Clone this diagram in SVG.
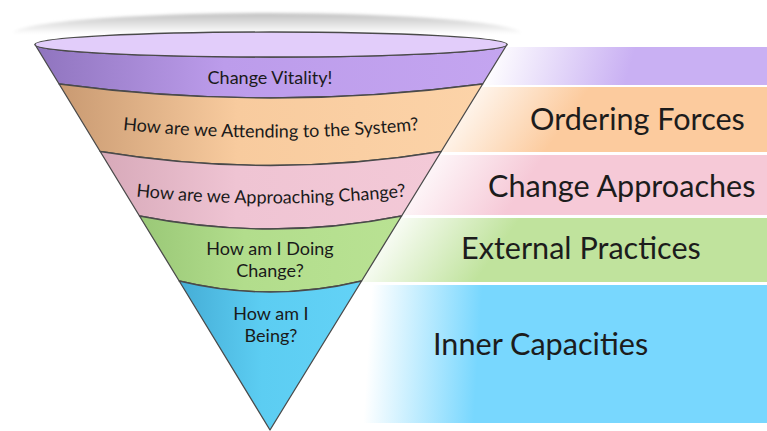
<svg xmlns="http://www.w3.org/2000/svg" width="767" height="431" viewBox="0 0 767 431">
  <defs>
    <style>
      .edge { stroke: #4a4a4a; stroke-width: 1.3; stroke-linejoin: round; }
      .q { font-family: Lato, "Open Sans", sans-serif; font-size: 18px; fill: #1a1a1a; text-anchor: middle; }
      .lbl { font-family: Lato, "Open Sans", sans-serif; font-size: 30.6px; fill: #1c1c1c; }
    </style>

    <!-- soft grey rim above the funnel mouth -->
    <linearGradient id="rimGrad" x1="0" y1="12" x2="0" y2="34" gradientUnits="userSpaceOnUse">
      <stop offset="0" stop-color="#bdbdbd"/>
      <stop offset="0.55" stop-color="#e2e2e2"/>
      <stop offset="1" stop-color="#ffffff"/>
    </linearGradient>
    <filter id="soft" x="-5%" y="-50%" width="110%" height="200%">
      <feGaussianBlur stdDeviation="1.4"/>
    </filter>

    <!-- funnel band fills: shaded on the left, lighter towards the right -->
    <linearGradient id="fPurple" x1="35" y1="0" x2="507" y2="0" gradientUnits="userSpaceOnUse">
      <stop offset="0" stop-color="#8f74be"/>
      <stop offset="0.4" stop-color="#bc9ceb"/>
      <stop offset="1" stop-color="#c4a5f0"/>
    </linearGradient>
    <linearGradient id="fOrange" x1="59" y1="0" x2="483" y2="0" gradientUnits="userSpaceOnUse">
      <stop offset="0" stop-color="#c99a72"/>
      <stop offset="0.42" stop-color="#f8cb9e"/>
      <stop offset="1" stop-color="#fcd3a8"/>
    </linearGradient>
    <linearGradient id="fPink" x1="100" y1="0" x2="441" y2="0" gradientUnits="userSpaceOnUse">
      <stop offset="0" stop-color="#d7a9b9"/>
      <stop offset="0.4" stop-color="#efc4d3"/>
      <stop offset="1" stop-color="#f3c9d7"/>
    </linearGradient>
    <linearGradient id="fGreen" x1="139" y1="0" x2="402" y2="0" gradientUnits="userSpaceOnUse">
      <stop offset="0" stop-color="#9ac877"/>
      <stop offset="0.4" stop-color="#b2dd8c"/>
      <stop offset="1" stop-color="#b9e293"/>
    </linearGradient>
    <linearGradient id="fBlue" x1="179" y1="0" x2="362" y2="0" gradientUnits="userSpaceOnUse">
      <stop offset="0" stop-color="#45add6"/>
      <stop offset="0.45" stop-color="#5ccdf2"/>
      <stop offset="1" stop-color="#63d2f6"/>
    </linearGradient>

    <!-- label bands: fade in from white beside the funnel -->
    <linearGradient id="bPurple" x1="492" y1="47" x2="625" y2="85" gradientUnits="userSpaceOnUse">
      <stop offset="0" stop-color="#ffffff"/>
      <stop offset="1" stop-color="#c9b0f3"/>
    </linearGradient>
    <linearGradient id="bOrange" x1="452" y1="87" x2="545" y2="152" gradientUnits="userSpaceOnUse">
      <stop offset="0" stop-color="#ffffff"/>
      <stop offset="1" stop-color="#fccb9e"/>
    </linearGradient>
    <linearGradient id="bPink" x1="415" y1="155" x2="505" y2="215" gradientUnits="userSpaceOnUse">
      <stop offset="0" stop-color="#ffffff"/>
      <stop offset="1" stop-color="#f6c9d7"/>
    </linearGradient>
    <linearGradient id="bGreen" x1="385" y1="218" x2="475" y2="282" gradientUnits="userSpaceOnUse">
      <stop offset="0" stop-color="#ffffff"/>
      <stop offset="1" stop-color="#c0e39d"/>
    </linearGradient>
    <linearGradient id="bBlue" x1="372" y1="285" x2="482" y2="292" gradientUnits="userSpaceOnUse">
      <stop offset="0" stop-color="#ffffff"/>
      <stop offset="1" stop-color="#78d7fe"/>
    </linearGradient>

    <!-- baselines for the arched questions -->
    <path id="arcAttend" d="M96,127 Q271,148 446,127"/>
    <path id="arcApproach" d="M114,194 Q271,213 428,194"/>
  </defs>

  <rect width="767" height="431" fill="#ffffff"/>

  <!-- label bands on the right -->
  <g id="band-vitality">
    <rect x="430" y="47" width="337" height="38" fill="url(#bPurple)"/>
  </g>
  <g id="band-ordering">
    <rect x="400" y="87" width="367" height="65" fill="url(#bOrange)"/>
    <text class="lbl" x="530" y="130">Ordering Forces</text>
  </g>
  <g id="band-approaches">
    <rect x="380" y="155" width="387" height="60" fill="url(#bPink)"/>
    <text class="lbl" x="488" y="197">Change Approaches</text>
  </g>
  <g id="band-practices">
    <rect x="360" y="218" width="407" height="64" fill="url(#bGreen)"/>
    <text class="lbl" x="461" y="259">External Practices</text>
  </g>
  <g id="band-capacities">
    <rect x="358" y="285" width="409" height="138" fill="url(#bBlue)"/>
    <text class="lbl" x="433" y="355">Inner Capacities</text>
  </g>

  <!-- rim shadow behind the funnel mouth -->
  <ellipse cx="267" cy="35" rx="256" ry="22" fill="url(#rimGrad)" filter="url(#soft)"/>

  <!-- funnel layers, top to bottom -->
  <g id="layer-vitality">
    <path class="edge" fill="url(#fPurple)" d="M35,44.5 A236,12.5 0 0 0 507,44.5 L482.7,84 Q270.9,112 59.1,84 Z"/>
    <ellipse class="edge" cx="271" cy="44.5" rx="236" ry="12.5" fill="#e2cdfa"/>
    <text class="q" x="270" y="84">Change Vitality!</text>
  </g>
  <g id="layer-system">
    <path class="edge" fill="url(#fOrange)" d="M59.1,84 Q270.9,112 482.7,84 L441.2,151.5 Q270.7,179.5 100.2,151.5 Z"/>
    <text class="q"><textPath href="#arcAttend" startOffset="50%">How are we Attending to the System?</textPath></text>
  </g>
  <g id="layer-approach">
    <path class="edge" fill="url(#fPink)" d="M100.2,151.5 Q270.7,179.5 441.2,151.5 L401.6,216 Q270.5,242 139.5,216 Z"/>
    <text class="q"><textPath href="#arcApproach" startOffset="50%">How are we Approaching Change?</textPath></text>
  </g>
  <g id="layer-doing">
    <path class="edge" fill="url(#fGreen)" d="M139.5,216 Q270.5,242 401.6,216 L361.6,281 Q270.4,303 179.2,281 Z"/>
    <text class="q" x="270" y="255">How am I Doing</text>
    <text class="q" x="270" y="277">Change?</text>
  </g>
  <g id="layer-being">
    <path class="edge" fill="url(#fBlue)" d="M179.2,281 Q270.4,303 361.6,281 L270,430 Z"/>
    <text class="q" x="271" y="320">How am I</text>
    <text class="q" x="271" y="342">Being?</text>
  </g>
</svg>
